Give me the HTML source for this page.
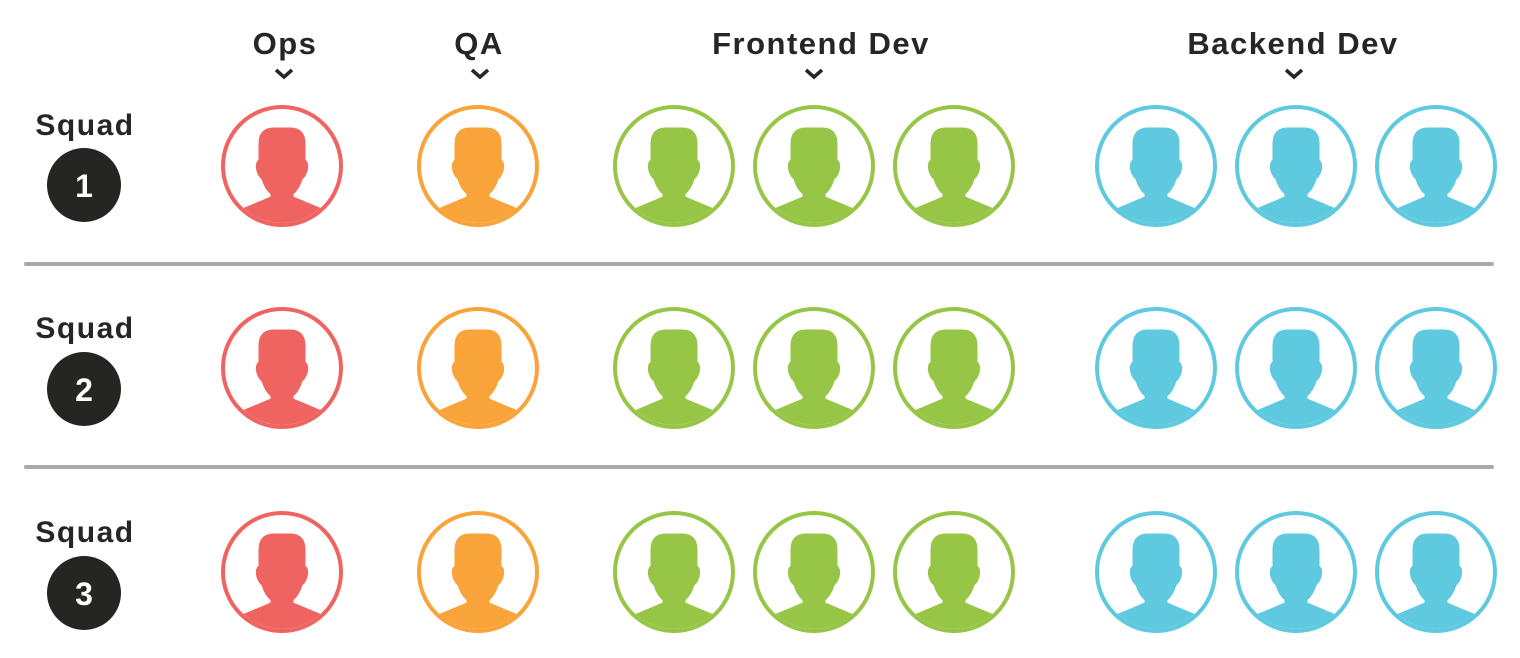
<!DOCTYPE html>
<html><head><meta charset="utf-8"><style>
html,body{margin:0;padding:0;background:#fff;}
svg{display:block}
text{font-family:"Liberation Sans",sans-serif;font-weight:bold;fill:#262626}
</style></head><body>
<svg width="1520" height="658" viewBox="0 0 1520 658" xmlns="http://www.w3.org/2000/svg">
<defs>
<clipPath id="c"><circle cx="0" cy="0" r="57"/></clipPath>
<g id="p">
  <g clip-path="url(#c)">
    <path d="M-23,-22 Q-23,-38 -8,-38 L8,-38 Q23,-38 23,-22 L23,-6 Q27,-3 25,5 Q23,11 20,13 Q17,23 11,28 L11,31 L42,44 L42,70 L-42,70 L-42,44 L-11,31 L-11,28 Q-17,23 -20,13 Q-23,11 -25,5 Q-27,-3 -23,-6 Z"/>
  </g>
  <circle cx="0" cy="0" r="59" fill="none" stroke-width="4" stroke="inherit"/>
</g>
</defs>
<g font-size="31" text-anchor="middle" letter-spacing="1.5">
<text x="285" y="54">Ops</text>
<text x="479" y="54">QA</text>
<text x="821" y="54">Frontend Dev</text>
<text x="1293" y="54">Backend Dev</text>
</g>
<g fill="none" stroke="#262626" stroke-width="3.5">
<polyline points="276,70 284,77 292,70"/>
<polyline points="472,70 480,77 488,70"/>
<polyline points="806,70 814,77 822,70"/>
<polyline points="1286,70 1294,77 1302,70"/>
</g>
<g stroke="#a9aaa7" stroke-width="4" stroke-linecap="round">
<line x1="26" y1="264" x2="1492" y2="264"/>
<line x1="26" y1="467" x2="1492" y2="467"/>
</g>
<g font-size="30" text-anchor="middle" letter-spacing="1.5">
<text x="85" y="135">Squad</text>
<text x="85" y="338">Squad</text>
<text x="85" y="542">Squad</text>
</g>
<g fill="#252624">
<circle cx="84" cy="185" r="37"/><circle cx="84" cy="389" r="37"/><circle cx="84" cy="593" r="37"/>
</g>
<g font-size="32" text-anchor="middle">
<text x="84" y="197" style="fill:#fff">1</text>
<text x="84" y="401" style="fill:#fff">2</text>
<text x="84" y="605" style="fill:#fff">3</text>
</g>
<g id="row">
<use href="#p" x="282" y="166" fill="#ef6461" stroke="#ef6461"/>
<use href="#p" x="478" y="166" fill="#f9a33b" stroke="#f9a33b"/>
<use href="#p" x="674" y="166" fill="#97c646" stroke="#97c646"/>
<use href="#p" x="814" y="166" fill="#97c646" stroke="#97c646"/>
<use href="#p" x="954" y="166" fill="#97c646" stroke="#97c646"/>
<use href="#p" x="1156" y="166" fill="#5ec9df" stroke="#5ec9df"/>
<use href="#p" x="1296" y="166" fill="#5ec9df" stroke="#5ec9df"/>
<use href="#p" x="1436" y="166" fill="#5ec9df" stroke="#5ec9df"/>
</g>
<use href="#row" y="202"/>
<use href="#row" y="406"/>
</svg>
</body></html>
